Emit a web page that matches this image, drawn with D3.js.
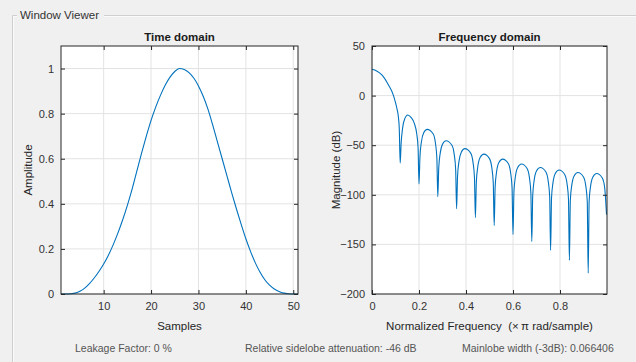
<!DOCTYPE html>
<html>
<head>
<meta charset="utf-8">
<script src="https://cdn.jsdelivr.net/npm/d3@7"></script>
<style>
	body { margin: 0; background: #f0f0f0; }
	svg { display: block; font-family: 'Liberation Sans', Arial, sans-serif; }
	.grid line { stroke: #e3e3e3; }
	.tick text { fill: #333; font-size: 11px; }
</style>
</head>
<body>
<svg id="w-svg" width="636" height="362"></svg>
<script>

// time domain, samples 1..51
var samples = d3.range(1, 52);
var amplitude = [0, 0, 0.001, 0.004, 0.012, 0.026, 0.046, 0.071, 0.1, 0.133,
	0.172, 0.218, 0.27, 0.328, 0.393, 0.465, 0.545, 0.625, 0.7, 0.77,
	0.83, 0.882, 0.927, 0.962, 0.987, 1.0, 0.996, 0.982, 0.958, 0.923,
	0.877, 0.82, 0.75, 0.675, 0.6, 0.525, 0.45, 0.378, 0.31, 0.245,
	0.188, 0.138, 0.096, 0.063, 0.039, 0.022, 0.011, 0.004, 0.001, 0, 0];

// frequency domain (x pi rad/sample, dB)
var freq = [0, 0.02, 0.042, 0.07, 0.09, 0.1, 0.106, 0.112, 0.116, 0.12,
	0.124, 0.13, 0.14, 0.152, 0.166, 0.18, 0.19, 0.196, 0.2,
	0.204, 0.21, 0.22, 0.235, 0.26, 0.27, 0.276, 0.28,
	0.284, 0.29, 0.3, 0.315, 0.34, 0.35, 0.356, 0.36,
	0.364, 0.37, 0.38, 0.395, 0.42, 0.43, 0.436, 0.44,
	0.444, 0.45, 0.46, 0.476, 0.5, 0.51, 0.516, 0.52,
	0.524, 0.53, 0.54, 0.556, 0.58, 0.59, 0.596, 0.6,
	0.604, 0.61, 0.62, 0.636, 0.66, 0.67, 0.676, 0.68,
	0.684, 0.69, 0.7, 0.716, 0.74, 0.75, 0.756, 0.76,
	0.764, 0.77, 0.78, 0.796, 0.82, 0.83, 0.836, 0.84,
	0.844, 0.85, 0.86, 0.876, 0.9, 0.91, 0.916, 0.92,
	0.924, 0.93, 0.94, 0.956, 0.98, 0.99, 0.998];
var magnitude = [26.5, 24.8, 20.8, 10.7, 1, -7, -13, -21, -33, -68,
	-48, -33, -23, -19.5, -22, -28, -38, -52, -89,
	-62, -47, -37.5, -34, -38.5, -48, -63, -102,
	-73, -58.5, -49, -45.5, -50, -59.5, -74.5, -114,
	-81.5, -66.5, -57, -53.5, -58, -67.5, -82.5, -123,
	-87, -72, -62.5, -59, -63.5, -73, -88, -131,
	-92, -77, -67.5, -64, -68.5, -78, -93, -140,
	-97, -82, -72.5, -69, -73.5, -83, -98, -147,
	-100.5, -85.5, -76, -72.5, -77, -86.5, -101.5, -156,
	-103, -88, -78.5, -75, -79.5, -89, -104, -166,
	-105.5, -90.5, -81, -77.5, -82, -91.5, -106.5, -179,
	-106.5, -91.5, -82, -78.5, -83, -92.5, -120];

var timeTicks = [10, 20, 30, 40, 50];
var ampTicks = [0, 0.2, 0.4, 0.6, 0.8, 1];
var freqTicks = [0, 0.2, 0.4, 0.6, 0.8];
var dbTicks = [-200, -150, -100, -50, 0, 50];

var footer = ['Leakage Factor: 0 %', 'Relative sidelobe attenuation: -46 dB', 'Mainlobe width (-3dB): 0.066406'];
var footerX = [75, 245, 462];

var lineColor = '#0072bd';
var svg = d3.select('#w-svg');

// group box
svg.append('path')
	.attr('d', 'M12.5,362 V15.5 H17 M104,15.5 H636')
	.attr('fill', 'none')
	.attr('stroke', '#cfcfcf');
svg.append('path')
	.attr('d', 'M13.5,362 V16.5 H17 M104,16.5 H636')
	.attr('fill', 'none')
	.attr('stroke', '#fafafa');
svg.append('text')
	.attr('x', 20)
	.attr('y', 19)
	.attr('font-size', 11.5)
	.attr('fill', '#333')
	.text('Window Viewer');

var drawPanel = function(opt) {
	var xscale = d3.scaleLinear().domain(opt.xdom).range([opt.x0, opt.x1]);
	var yscale = d3.scaleLinear().domain(opt.ydom).range([opt.y1, opt.y0]);
	var g = svg.append('g');

	g.append('rect')
		.attr('x', opt.x0).attr('y', opt.y0)
		.attr('width', opt.x1 - opt.x0).attr('height', opt.y1 - opt.y0)
		.attr('fill', 'white');

	g.append('g').attr('class', 'grid')
		.selectAll('line').data(opt.xticks).enter().append('line')
		.attr('x1', d => xscale(d)).attr('x2', d => xscale(d))
		.attr('y1', opt.y0).attr('y2', opt.y1);
	g.append('g').attr('class', 'grid')
		.selectAll('line').data(opt.yticks).enter().append('line')
		.attr('y1', d => yscale(d)).attr('y2', d => yscale(d))
		.attr('x1', opt.x0).attr('x2', opt.x1);

	var line = d3.line()
		.x(d => xscale(d[0]))
		.y(d => yscale(d[1]))
		.curve(opt.curve);

	g.append('path')
		.datum(opt.xs.map((d, i) => [d, opt.ys[i]]))
		.attr('d', line)
		.attr('fill', 'none')
		.attr('stroke', lineColor)
		.attr('stroke-width', 1.1);

	var xaxis = d3.axisBottom(xscale).tickValues(opt.xticks).tickSizeInner(-4).tickSizeOuter(0).tickPadding(8).tickFormat(d3.format('~g'));
	var yaxis = d3.axisLeft(yscale).tickValues(opt.yticks).tickSizeInner(-4).tickSizeOuter(0).tickPadding(7).tickFormat(d3.format('~g'));
	var xtop = d3.axisTop(xscale).tickValues(opt.xticks).tickSizeInner(-4).tickSizeOuter(0).tickFormat('');
	var yright = d3.axisRight(yscale).tickValues(opt.yticks).tickSizeInner(-4).tickSizeOuter(0).tickFormat('');

	[[xaxis, 'translate(0,' + opt.y1 + ')'], [yaxis, 'translate(' + opt.x0 + ',0)'],
	 [xtop, 'translate(0,' + opt.y0 + ')'], [yright, 'translate(' + opt.x1 + ',0)']].forEach(a => {
		var ax = g.append('g').attr('transform', a[1]).call(a[0]);
		ax.select('.domain').remove();
		ax.selectAll('.tick line').attr('stroke', '#262626');
		ax.selectAll('.tick text').attr('font-family', null);
	});

	g.append('rect')
		.attr('x', opt.x0).attr('y', opt.y0)
		.attr('width', opt.x1 - opt.x0).attr('height', opt.y1 - opt.y0)
		.attr('fill', 'none')
		.attr('stroke', '#262626');

	var cx = (opt.x0 + opt.x1) / 2;
	g.append('text')
		.attr('x', cx).attr('y', 41)
		.attr('text-anchor', 'middle')
		.attr('font-size', 11.5).attr('font-weight', 'bold')
		.attr('fill', '#1a1a1a')
		.text(opt.title);
	g.append('text')
		.attr('x', cx).attr('y', 330)
		.attr('text-anchor', 'middle')
		.attr('font-size', 11.5)
		.attr('fill', '#262626')
		.text(opt.xlabel);
	g.append('text')
		.attr('transform', 'translate(' + opt.ylx + ',' + ((opt.y0 + opt.y1) / 2) + ') rotate(-90)')
		.attr('text-anchor', 'middle')
		.attr('font-size', 11.5)
		.attr('fill', '#262626')
		.text(opt.ylabel);
}

drawPanel({
	x0: 61, x1: 298, y0: 46, y1: 294,
	xdom: [1, 51], ydom: [0, 1.1],
	xticks: timeTicks, yticks: ampTicks,
	xs: samples, ys: amplitude, curve: d3.curveMonotoneX,
	title: 'Time domain', xlabel: 'Samples', ylabel: 'Amplitude', ylx: 32
});

drawPanel({
	x0: 372, x1: 607, y0: 46, y1: 294,
	xdom: [0, 1], ydom: [-200, 50],
	xticks: freqTicks, yticks: dbTicks,
	xs: freq, ys: magnitude, curve: d3.curveMonotoneX,
	title: 'Frequency domain', xlabel: 'Normalized Frequency \u00a0(\u00d7\u2009\u03c0 rad/sample)', ylabel: 'Magnitude (dB)', ylx: 340
});

svg.selectAll('.footer').data(footer).enter().append('text')
	.attr('class', 'footer')
	.attr('x', (d, i) => footerX[i])
	.attr('y', 352)
	.attr('font-size', 10.5)
	.attr('fill', '#555')
	.text(d => d);

</script>
</body>
</html>
